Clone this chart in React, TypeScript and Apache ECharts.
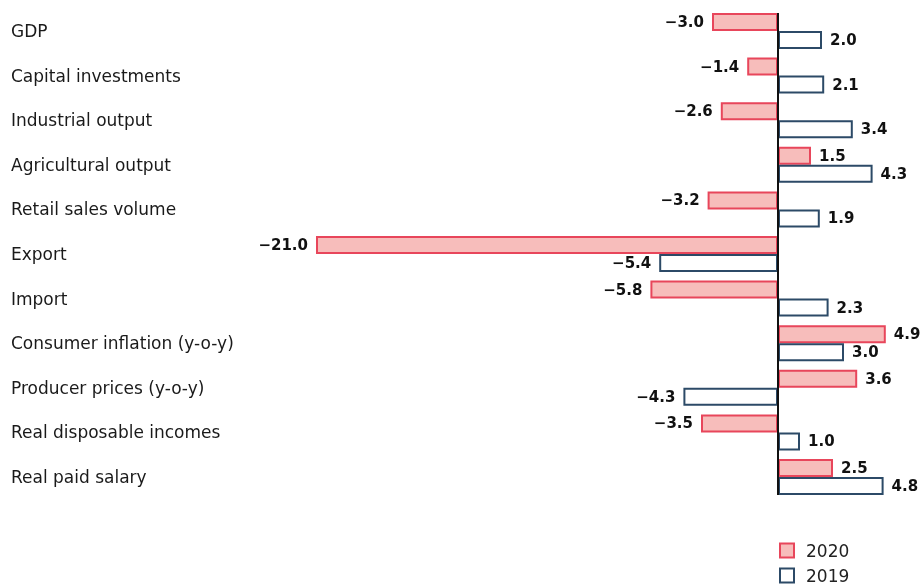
import React, { useEffect, useRef } from "react";
import * as echarts from "echarts";

const categories = [
  "GDP",
  "Capital investments",
  "Industrial output",
  "Agricultural output",
  "Retail sales volume",
  "Export",
  "Import",
  "Consumer inflation (y-o-y)",
  "Producer prices (y-o-y)",
  "Real disposable incomes",
  "Real paid salary",
];
const values2020 = [-3.0, -1.4, -2.6, 1.5, -3.2, -21.0, -5.8, 4.9, 3.6, -3.5, 2.5];
const values2019 = [2.0, 2.1, 3.4, 4.3, 1.9, -5.4, 2.3, 3.0, -4.3, 1.0, 4.8];
const seriesNames = ["2020", "2019"];

const FONT = "'DejaVu Sans', 'Open Sans', sans-serif";
const fmt = (v: number) => (v < 0 ? "\u2212" + Math.abs(v).toFixed(1) : v.toFixed(1));

function toData(vals: number[]) {
  return vals.map((v) => ({
    value: v,
    label: { position: v < 0 ? "left" : "right" },
  }));
}

export default function App() {
  const ref = useRef<HTMLDivElement>(null);
  useEffect(() => {
    if (!ref.current) return;
    const chart = echarts.init(ref.current, null, { renderer: "svg" });
    const labelCommon = {
      show: true,
      distance: 8,
      formatter: (p: any) => fmt(p.value),
      fontFamily: FONT,
      fontWeight: "bold",
      fontSize: 15,
      color: "#111111",
    };
    const legendCommon = {
      orient: "horizontal",
      left: 779,
      padding: 0,
      itemWidth: 14,
      itemHeight: 14,
      icon: "rect",
      textStyle: {
        fontFamily: FONT,
        fontSize: 17,
        color: "#222222",
        padding: [0, 0, 0, 7],
      },
    };
    chart.setOption({
      animation: false,
      grid: { left: 316, right: 36, top: 8.7, bottom: 88.7, containLabel: false },
      legend: [
        { ...legendCommon, top: 542, data: [seriesNames[0]] },
        { ...legendCommon, top: 567, data: [seriesNames[1]] },
      ],
      xAxis: {
        type: "value",
        min: -21,
        max: 5,
        show: false,
      },
      yAxis: {
        type: "category",
        data: categories,
        inverse: true,
        axisLine: { show: false },
        axisTick: { show: false },
        axisLabel: {
          align: "left",
          margin: 305,
          fontFamily: FONT,
          fontSize: 17,
          color: "#1a1a1a",
        },
      },
      series: [
        {
          name: seriesNames[0],
          type: "bar",
          barWidth: 18,
          barGap: "0%",
          data: toData(values2020),
          itemStyle: { color: "#f7bdbb", borderColor: "#e8465b", borderWidth: 2 },
          label: labelCommon,
        },
        {
          name: seriesNames[1],
          type: "bar",
          barWidth: 18,
          barGap: "0%",
          data: toData(values2019),
          itemStyle: { color: "#ffffff", borderColor: "#2c4a67", borderWidth: 2 },
          label: labelCommon,
        },
      ],
    });
    const x0 = chart.convertToPixel({ xAxisIndex: 0 }, 0) as number;
    const yFirst = chart.convertToPixel({ yAxisIndex: 0 }, categories[0]) as number;
    const yLast = chart.convertToPixel({ yAxisIndex: 0 }, categories[categories.length - 1]) as number;
    chart.setOption({
      graphic: [
        {
          type: "line",
          z: 100,
          shape: { x1: x0, y1: yFirst - 18, x2: x0, y2: yLast + 18 },
          style: { stroke: "#111111", lineWidth: 2 },
        },
      ],
    });
    return () => chart.dispose();
  }, []);
  return (
    <div
      ref={ref}
      style={{ position: "fixed", left: 0, top: 0, width: 924, height: 588 }}
    />
  );
}
